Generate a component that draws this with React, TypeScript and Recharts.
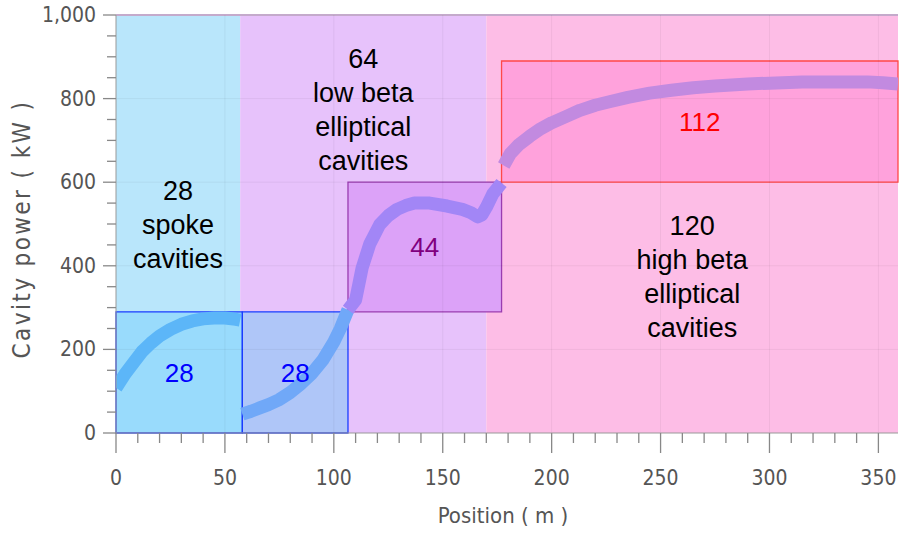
import React from 'react';
import { ComposedChart, Line, XAxis, YAxis, ReferenceArea, ReferenceLine, ReferenceDot } from 'recharts';

// linac sections (background bands)
const sectionStart = [0, 57, 170];
const sectionEnd = [57, 170, 359];
const sectionCount = ['28', '64', '120'];
const sectionText = [
    ['spoke', 'cavities'],
    ['low beta', 'elliptical', 'cavities'],
    ['high beta', 'elliptical', 'cavities'],
];
const sectionLabelY = [498, 773, 373];
const sectionFill = ['#b9e6fb', '#e7c2fb', '#fdbde6'];

// cryomodule boxes
const boxX1 = [0, 58, 106.5, 177];
const boxX2 = [58, 106.5, 177, 359];
const boxY1 = [0, 0, 290, 600];
const boxY2 = [290, 290, 600, 890];
const boxCount = ['28', '28', '44', '112'];
const boxFill = ['#99dbfc', '#afc6f8', '#dca2f8', '#ffa2dc'];
const boxStroke = ['#1a3cff', '#1a3cff', '#9a3cb0', '#ff4848'];
const boxText = ['#0000ff', '#0000ff', '#800080', '#ff0000'];

// cavity power curve, one piece per box
const seg1X = [0, 4, 8, 12, 16, 20, 25, 30, 35, 40, 45, 50, 55, 57];
const seg1Y = [108, 140, 168, 195, 215, 232, 248, 260, 268, 273, 275, 275, 272, 270];
const seg2X = [58, 62, 66, 70, 75, 80, 85, 90, 95, 100, 103, 106.5];
const seg2Y = [45, 52, 60, 68, 80, 97, 118, 143, 175, 218, 250, 295];
const seg3X = [106.5, 110, 113, 116.5, 121, 125, 129, 133, 137, 144, 152, 159, 163, 166, 168, 170, 173, 177];
const seg3Y = [295, 318, 395, 452, 498, 520, 535, 544, 550, 550, 543, 535, 527, 517, 522, 540, 572, 598];
const seg4X = [178, 181, 185, 190, 195, 200, 207, 213, 220, 227, 235, 245, 255, 265, 275, 290, 300, 315, 330, 345, 352, 359];
const seg4Y = [640, 668, 690, 710, 728, 742, 758, 772, 784, 793, 803, 813, 820, 826, 830, 835, 837, 840, 840, 840, 838, 835];
const segColor = ['#5cb6f8', '#70a8f8', '#a286f6', '#c28ae0'];

const xTicks = [0, 10, 20, 30, 40, 50, 60, 70, 80, 90, 100, 110, 120, 130, 140, 150, 160, 170, 180, 190, 200, 210, 220, 230, 240, 250, 260, 270, 280, 290, 300, 310, 320, 330, 340, 350];
const yTicks = [0, 50, 100, 150, 200, 250, 300, 350, 400, 450, 500, 550, 600, 650, 700, 750, 800, 850, 900, 950, 1000];
const xGrid = [50, 100, 150, 200, 250, 300, 350];
const yGrid = [200, 400, 600, 800];

const axisFont = "'DejaVu Sans Condensed', 'DejaVu Sans', sans-serif";
const labelFont = "'Liberation Sans', Arial, sans-serif";

const segments = [
    seg1X.map((x, i) => ({ x, y: seg1Y[i] })),
    seg2X.map((x, i) => ({ x, y: seg2Y[i] })),
    seg3X.map((x, i) => ({ x, y: seg3Y[i] })),
    seg4X.map((x, i) => ({ x, y: seg4Y[i] })),
];

const XTick = (props: any) => {
    const { x, y, payload } = props;
    const major = payload.value % 50 === 0;
    return (
        <g>
            <line x1={x} x2={x} y1={y} y2={y + (major ? 20 : 10)} stroke="#888" strokeWidth={1.3} />
            {major && (
                <text x={x} y={y + 45} textAnchor="middle" dominantBaseline="central" fill="#555" fontSize={21} fontFamily={axisFont}>
                    {payload.value}
                </text>
            )}
        </g>
    );
};

const YTick = (props: any) => {
    const { x, y, payload } = props;
    const major = payload.value % 200 === 0;
    return (
        <g>
            <line x1={x - (major ? 13 : 9)} x2={x} y1={y} y2={y} stroke="#888" strokeWidth={1.3} />
            {major && (
                <text x={x - 20} y={y} textAnchor="end" dominantBaseline="central" fill="#555" fontSize={21} fontFamily={axisFont}>
                    {payload.value.toLocaleString('en-US')}
                </text>
            )}
        </g>
    );
};

const sectionLabel = (count: string, lines: string[]) => (props: any) => {
    const { viewBox } = props;
    const cx = viewBox.x + viewBox.width / 2;
    const cy = viewBox.y + viewBox.height / 2;
    const all = [count, ...lines];
    const step = 34;
    const top = cy - ((all.length - 1) * step) / 2;
    return (
        <text textAnchor="middle" dominantBaseline="central" fill="#000" fontSize={27} fontFamily={labelFont}>
            {all.map((t, i) => (
                <tspan key={i} x={cx} y={top + i * step}>{t}</tspan>
            ))}
        </text>
    );
};

const App: React.FC = () => {
    return (
        <div style={{ position: 'absolute', left: 0, top: 0, width: 899, height: 539, background: '#fff' }}>
            <ComposedChart width={899} height={539} margin={{ top: 15, right: 1, bottom: 76, left: 0 }}>
                <XAxis
                    type="number"
                    dataKey="x"
                    domain={[0, 359]}
                    ticks={xTicks}
                    interval={0}
                    height={30}
                    tickSize={0}
                    tickMargin={0}
                    tick={<XTick />}
                    stroke="#999"
                    allowDataOverflow
                />
                <YAxis
                    type="number"
                    domain={[0, 1000]}
                    ticks={yTicks}
                    interval={0}
                    width={116}
                    tickSize={0}
                    tickMargin={0}
                    tick={<YTick />}
                    stroke="#999"
                />
                {sectionStart.map((s, i) => (
                    <ReferenceArea key={'s' + i} x1={s} x2={sectionEnd[i]} y1={0} y2={1000} fill={sectionFill[i]} fillOpacity={1} stroke="none" />
                ))}
                <ReferenceLine y={1000} stroke="#c4aacb" strokeWidth={2} />
                {xGrid.map((g) => (
                    <ReferenceLine key={'gx' + g} x={g} stroke="#000" strokeOpacity={0.05} />
                ))}
                {yGrid.map((g) => (
                    <ReferenceLine key={'gy' + g} y={g} stroke="#000" strokeOpacity={0.05} />
                ))}
                {boxX1.map((b, i) => (
                    <ReferenceArea
                        key={'b' + i}
                        x1={b}
                        x2={boxX2[i]}
                        y1={boxY1[i]}
                        y2={boxY2[i]}
                        fill={boxFill[i]}
                        fillOpacity={1}
                        stroke={boxStroke[i]}
                        strokeWidth={1.3}
                    />
                ))}
                {segments.map((d, i) => (
                    <Line
                        key={'l' + i}
                        data={d}
                        dataKey="y"
                        type="linear"
                        stroke={segColor[i]}
                        strokeWidth={13}
                        strokeLinejoin="round"
                        dot={false}
                        activeDot={false}
                        isAnimationActive={false}
                    />
                ))}
                {boxX1.map((b, i) => (
                    <ReferenceArea
                        key={'bl' + i}
                        x1={b}
                        x2={boxX2[i]}
                        y1={boxY1[i]}
                        y2={boxY2[i]}
                        fill="none"
                        stroke="none"
                        label={{ value: boxCount[i], position: 'center', fill: boxText[i], fontSize: 26, fontFamily: labelFont }}
                    />
                ))}
                {sectionStart.map((s, i) => (
                    <ReferenceDot
                        key={'sl' + i}
                        x={(s + sectionEnd[i]) / 2}
                        y={sectionLabelY[i]}
                        r={0}
                        fill="none"
                        stroke="none"
                        label={{ content: sectionLabel(sectionCount[i], sectionText[i]) }}
                    />
                ))}
                <text x={22} y={229} transform="rotate(-90 22 229)" textAnchor="middle" dominantBaseline="central" fill="#555" fontSize={24} letterSpacing={2.4} fontFamily={axisFont}>
                    Cavity power ( kW )
                </text>
                <text x={503} y={515} textAnchor="middle" dominantBaseline="central" fill="#555" fontSize={22} fontFamily={axisFont}>
                    Position ( m )
                </text>
            </ComposedChart>
        </div>
    );
};

export default App;
